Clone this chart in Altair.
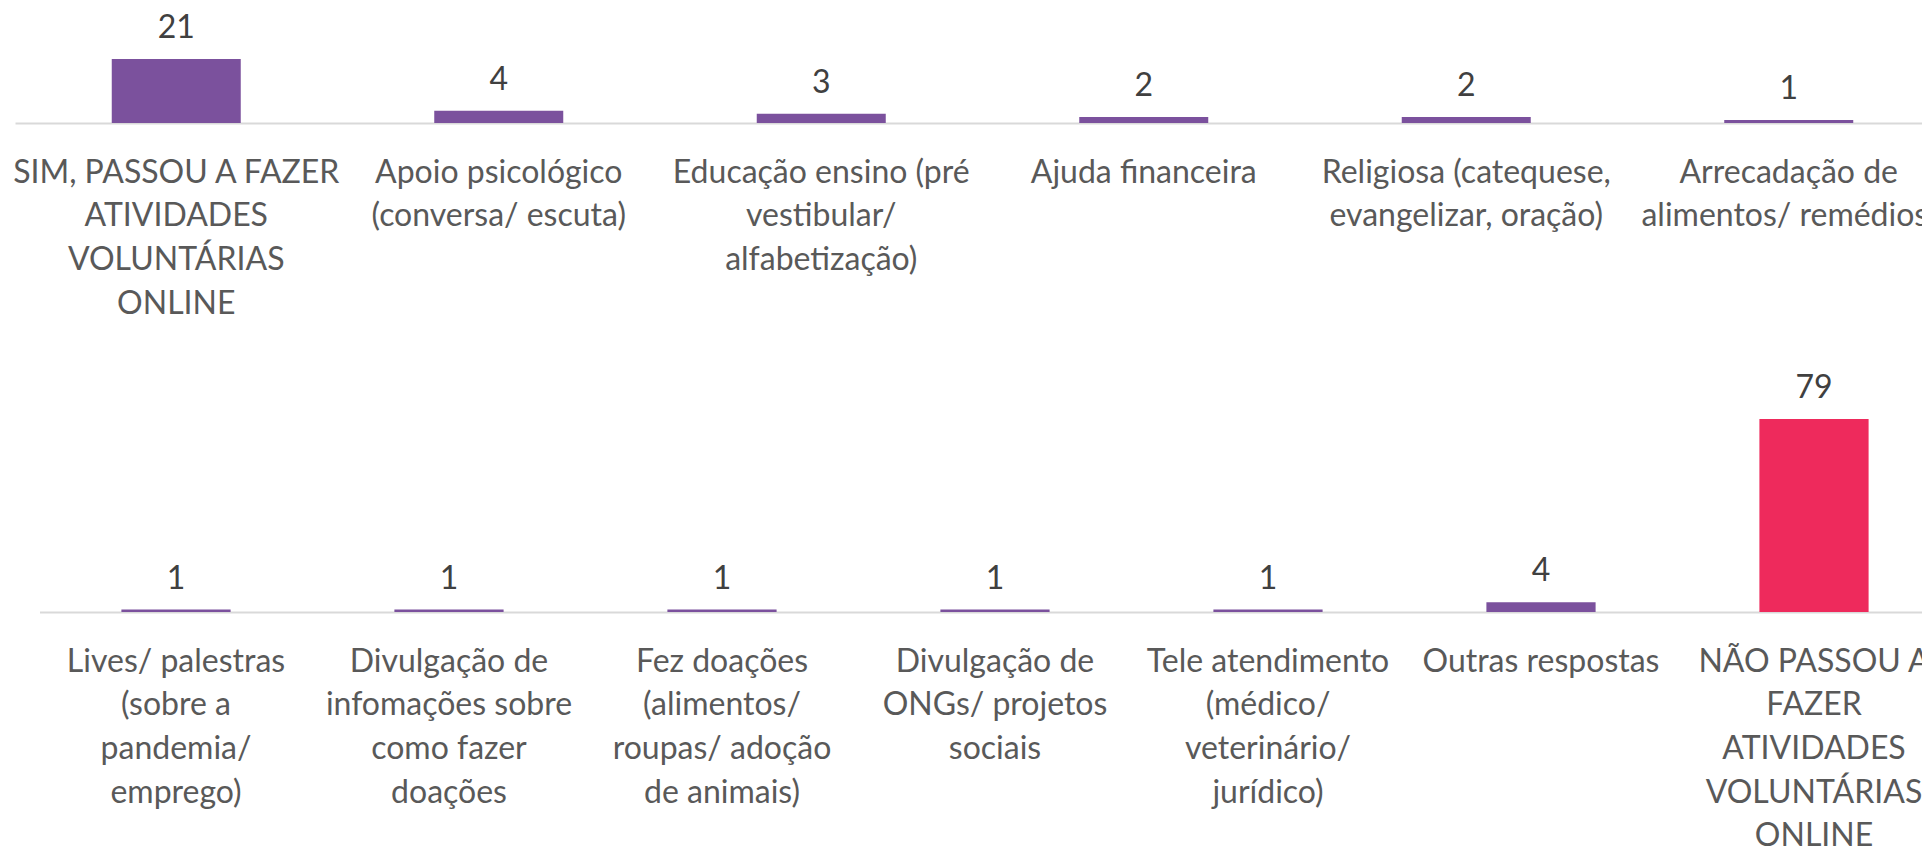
import altair as alt
import pandas as pd

# ---------------- data ----------------
top_categories = [
    "SIM, PASSOU A FAZER\nATIVIDADES\nVOLUNTÁRIAS\nONLINE",
    "Apoio psicológico\n(conversa/ escuta)",
    "Educação ensino (pré\nvestibular/\nalfabetização)",
    "Ajuda financeira",
    "Religiosa (catequese,\nevangelizar, oração)",
    "Arrecadação de\nalimentos/ remédios)",
]
top_values = [21, 4, 3, 2, 2, 1]
top_groups = ["sim", "sim", "sim", "sim", "sim", "sim"]

bottom_categories = [
    "Lives/ palestras\n(sobre a\npandemia/\nemprego)",
    "Divulgação de\ninfomações sobre\ncomo fazer\ndoações",
    "Fez doações\n(alimentos/\nroupas/ adoção\nde animais)",
    "Divulgação de\nONGs/ projetos\nsociais",
    "Tele atendimento\n(médico/\nveterinário/\njurídico)",
    "Outras respostas",
    "NÃO PASSOU A\nFAZER\nATIVIDADES\nVOLUNTÁRIAS\nONLINE",
]
bottom_values = [1, 1, 1, 1, 1, 4, 79]
bottom_groups = ["sim", "sim", "sim", "sim", "sim", "sim", "não"]

top_df = pd.DataFrame({"categoria": top_categories, "valor": top_values, "grupo": top_groups})
bottom_df = pd.DataFrame({"categoria": bottom_categories, "valor": bottom_values, "grupo": bottom_groups})

# ---------------- style ----------------
PURPLE = "#7B519D"
PINK = "#EE2A5C"
FONT = "Lato"
LABEL_COLOR = "#595959"
VALUE_COLOR = "#404040"
AXIS_COLOR = "#D9D9D9"

W = 1914          # view width (chart starts at page x=8)
H = 604           # view height: bottom baseline
TOP_BASE = 115    # top row baseline within view


def make_row(df, x_range, y_range, y_max, axis_offset):
    x = alt.X(
        "categoria:N",
        sort=None,
        scale=alt.Scale(range=x_range, paddingInner=0.6, paddingOuter=0.3),
        axis=alt.Axis(
            orient="bottom",
            offset=axis_offset,
            title=None,
            grid=False,
            ticks=False,
            domainColor=AXIS_COLOR,
            domainWidth=2,
            labelAngle=0,
            labelAlign="center",
            labelBaseline="top",
            labelExpr="split(datum.value, '\\n')",
            labelFont=FONT,
            labelFontSize=32,
            labelColor=LABEL_COLOR,
            labelLineHeight=43.7,
            labelPadding=34,
            labelLimit=600,
            labelOverlap=False,
            labelBound=False,
            labelFlush=False,
        ),
    )
    y = alt.Y(
        "valor:Q",
        scale=alt.Scale(domain=[0, y_max], range=y_range, nice=False, zero=True),
        axis=None,
    )
    color = alt.Color(
        "grupo:N",
        scale=alt.Scale(domain=["sim", "não"], range=[PURPLE, PINK]),
        legend=None,
    )
    bars = alt.Chart(df).mark_bar(cornerRadius=0).encode(x=x, y=y, color=color)
    text = alt.Chart(df).mark_text(
        baseline="alphabetic", dy=-21, font=FONT, fontSize=32, color=VALUE_COLOR
    ).encode(x=x, y=y, text="valor:Q")
    return alt.layer(bars, text)


top_row = make_row(top_df, [7, 1942], [TOP_BASE, 0], 37.7, -(H - TOP_BASE))
bottom_row = make_row(bottom_df, [31.5, 1942.5], [H, 0], 247.2, 0)

chart = (
    alt.layer(top_row, bottom_row)
    .resolve_scale(x="independent", y="independent", color="independent")
    .resolve_axis(x="independent", y="independent")
    .properties(
        width=W,
        height=H,
        autosize=alt.AutoSizeParams(type="none"),
        padding={"left": 0, "top": 0, "right": 0, "bottom": 840 - H},
        background="white",
    )
    .configure_view(stroke=None)
)

chart.save("out.html", embed_options={"renderer": "svg", "actions": False})
